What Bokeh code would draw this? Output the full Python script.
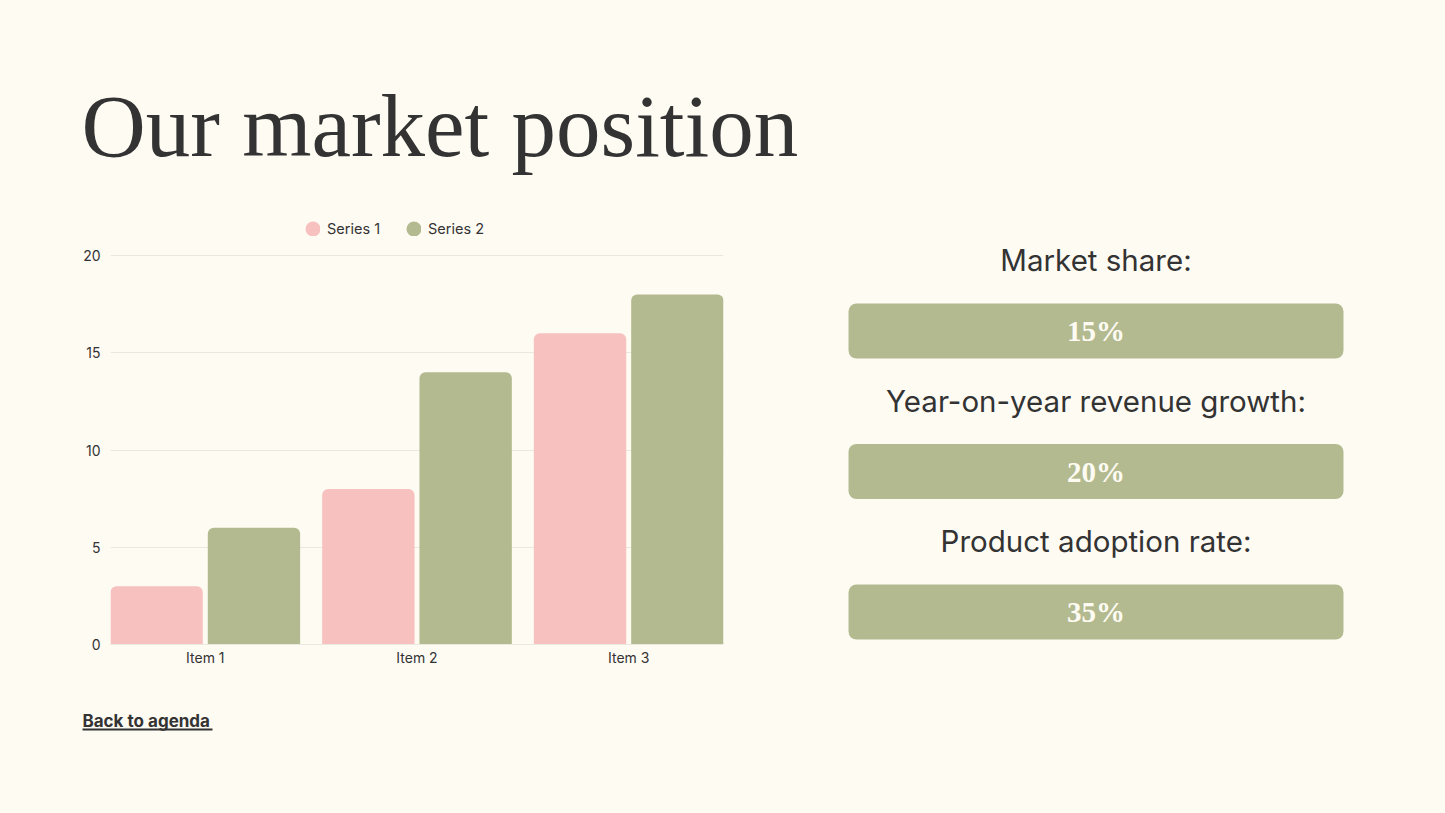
from bokeh.plotting import figure
from bokeh.models import (ColumnDataSource, FactorRange, Range1d, FixedTicker, Legend,
                          LegendItem)
from bokeh.transform import dodge
from bokeh.layouts import column, row
from bokeh.core.properties import value
from bokeh.embed import file_html
from bokeh.resources import INLINE

# ---------------- data ----------------
items = ["Item 1", "Item 2", "Item 3"]
series1 = [3, 8, 16]
series2 = [6, 14, 18]
series_names = ["Series 1", "Series 2"]
y_ticks = [0, 5, 10, 15, 20]

metric_labels = ["Market share:", "Year-on-year revenue growth:", "Product adoption rate:"]
metric_values = ["15%", "20%", "35%"]
metric_index = [0, 1, 2]

title_text = "Our market position"
link_text = "Back to agenda"

# ---------------- styles ----------------
BG = "#fefbf3"
PINK = "#f7c1bf"
GREEN = "#b3ba8f"
TEXT = "#333333"
GRID = "#ebe8df"
SANS = "Inter"
SERIF = "Liberation Serif"

W, H = 1445, 813
TOP_H, MID_H = 200, 490
BOT_H = H - TOP_H - MID_H
CHART_W = 790
RIGHT_W = W - CHART_W
MB_TOP, MB_BOT = 15, 46          # shared top / bottom borders of the middle band


def blank(width, height, xr, yr, **kw):
    f = figure(width=width, height=height, x_range=xr, y_range=yr,
               output_backend="svg", toolbar_location=None,
               x_axis_type=None, y_axis_type=None,
               background_fill_color=BG, border_fill_color=BG,
               outline_line_color=None, **kw)
    f.grid.visible = False
    return f


# ---------------- title ----------------
top = blank(W, TOP_H, Range1d(0, W), Range1d(TOP_H, 0), min_border=0)
top.text(x=[81], y=[125], text=[title_text], text_font=value(SERIF),
         text_font_size="89px", text_color=TEXT, text_baseline="middle",
         text_align="left")

# ---------------- bar chart ----------------
frame_h = MID_H - MB_TOP - MB_BOT          # 429 px
y_top = 20 * frame_h / (644 - 255)          # head-room above 20 for the legend
src = ColumnDataSource(dict(items=items, s1=series1, s2=series2))
p = figure(width=CHART_W, height=MID_H,
           x_range=FactorRange(*items, range_padding=0, factor_padding=0.1164),
           y_range=Range1d(0, y_top),
           output_backend="svg", toolbar_location=None,
           min_border_left=110, min_border_right=CHART_W - 723,
           min_border_top=MB_TOP, min_border_bottom=MB_BOT,
           background_fill_color=BG, border_fill_color=BG,
           outline_line_color=None)

bw = 0.487
off = 0.2566
p.vbar(x=dodge("items", -off, range=p.x_range), top="s1", width=bw, source=src,
       fill_color=PINK, line_color=None, border_radius=(6, 6, 0, 0))
p.vbar(x=dodge("items", off, range=p.x_range), top="s2", width=bw, source=src,
       fill_color=GREEN, line_color=None, border_radius=(6, 6, 0, 0))

p.yaxis.ticker = FixedTicker(ticks=y_ticks)
p.yaxis.axis_line_color = None
p.yaxis.major_tick_line_color = None
p.yaxis.minor_tick_line_color = None
p.yaxis.major_label_standoff = 10
p.xaxis.axis_line_color = GRID
p.xaxis.major_tick_line_color = None
p.xaxis.major_label_standoff = 4
for ax in (p.xaxis, p.yaxis):
    ax.major_tick_out = 0
    ax.major_tick_in = 0
    ax.major_label_text_font = SANS
    ax.major_label_text_font_size = "14px"
    ax.major_label_text_color = TEXT
p.xgrid.visible = False
p.ygrid.grid_line_color = GRID

# legend markers: small circle + thick outline of same colour -> ~15px dot
nan = float("nan")
l1 = p.scatter(x=[items[0]], y=[nan], marker="circle", size=6, fill_color=PINK,
               line_color=PINK, line_width=9)
l2 = p.scatter(x=[items[0]], y=[nan], marker="circle", size=6, fill_color=GREEN,
               line_color=GREEN, line_width=9)
legend = Legend(items=[LegendItem(label=series_names[0], renderers=[l1]),
                       LegendItem(label=series_names[1], renderers=[l2])],
                orientation="horizontal", location=(195, 407),
                glyph_width=15, glyph_height=15, label_standoff=7, spacing=26,
                padding=0, margin=0, border_line_color=None,
                background_fill_alpha=0, label_text_font=SANS,
                label_text_font_size="14.5px", label_text_color=TEXT,
                label_height=15)
p.add_layout(legend, "center")

# ---------------- right panel ----------------
unit = 140.5                       # px between metric rows
box_c0 = 330.5 - (TOP_H + MB_TOP)  # first box centre, px below frame top
right = blank(RIGHT_W, MID_H, Range1d(-305.5, 349.5),
              Range1d((frame_h - box_c0) / unit, -box_c0 / unit),
              min_border_left=0, min_border_right=0,
              min_border_top=MB_TOP, min_border_bottom=MB_BOT)
right.hbar(y=metric_index, left=-247.5, right=247.5, height=55 / unit,
           fill_color=GREEN, line_color=None, border_radius=8)
right.text(x=0, y=metric_index, text=metric_values, text_font=value(SERIF),
           text_font_style="bold", text_font_size="29px", text_color=BG,
           text_align="center", text_baseline="middle")
right.text(x=0, y=[i - 71 / unit for i in metric_index], text=metric_labels,
           text_font=value(SANS), text_font_size="29.5px", text_color=TEXT,
           text_align="center", text_baseline="middle")

# ---------------- bottom ----------------
bot = blank(W, BOT_H, Range1d(0, W), Range1d(BOT_H, 0), min_border=0)
bot.text(x=[82], y=[30], text=[link_text], text_font=value(SANS),
         text_font_style="bold", text_font_size="17px", text_color=TEXT,
         text_align="left", text_baseline="middle")
bot.segment(x0=[82], y0=[39], x1=[212], y1=[39], line_color=TEXT, line_width=1.8)

bg_style = {"background-color": BG}
layout = column(top, row(p, right, styles=bg_style), bot, styles=bg_style)
open("out.html", "w").write(file_html(layout, INLINE, title="Our market position"))
